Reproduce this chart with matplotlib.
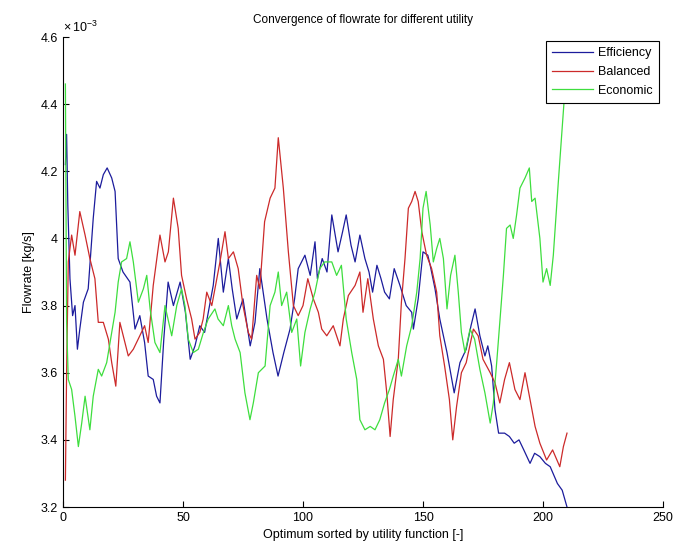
import numpy as np
import matplotlib
matplotlib.use("Agg")
import matplotlib.pyplot as plt
from matplotlib.ticker import FuncFormatter, MultipleLocator

plt.rcParams['font.family'] = ['Liberation Sans', 'DejaVu Sans']
plt.rcParams['mathtext.default'] = 'regular'

# values, flowrate in units of 1e-3 kg/s
eff_x = [1, 1.5, 2, 2.9, 4, 5, 6, 7, 8.5, 10.5, 12.6, 14, 15.4, 16.8, 18.4, 20.3, 21.7, 23, 25, 27.9,
         30, 32, 34, 35.5, 37.6, 39, 40.4, 42, 43.8, 46, 48.8, 51, 53, 55, 57, 59, 62.6, 64.7, 66.8, 68.9,
         70.5, 72.4, 75, 78, 80, 82, 85, 87.5, 89.6, 92, 94.6, 96.5, 98, 100.8, 103, 105, 106, 108, 110, 112,
         114.6, 116.5, 118, 120, 121.7, 123.7, 125.8, 127.5, 129, 130.8, 132.5, 134, 136, 138, 140.4, 143,
         145.3, 146, 148, 150, 152, 153, 155, 157, 160, 163, 165.4, 168, 170, 171.7, 173.7, 175.8, 177,
         178.6, 180, 181.5, 184, 186, 188, 190, 192, 194.6, 196.5, 198.7, 201, 203, 206, 208, 210]
eff_y = [4.22, 4.31, 4.10, 3.88, 3.77, 3.80, 3.67, 3.73, 3.81, 3.85, 4.06, 4.17, 4.15, 4.19, 4.21, 4.18, 4.14, 3.94, 3.90, 3.87,
         3.73, 3.77, 3.69, 3.59, 3.58, 3.53, 3.51, 3.70, 3.87, 3.80, 3.87, 3.78, 3.64, 3.68, 3.74, 3.72, 3.86, 4.00, 3.84, 3.94,
         3.85, 3.76, 3.82, 3.68, 3.75, 3.91, 3.76, 3.66, 3.59, 3.66, 3.73, 3.82, 3.91, 3.95, 3.89, 3.99, 3.88, 3.94, 3.90, 4.07,
         3.96, 4.02, 4.07, 3.98, 3.93, 4.01, 3.94, 3.90, 3.84, 3.92, 3.88, 3.84, 3.82, 3.91, 3.86, 3.80,
         3.78, 3.73, 3.82, 3.96, 3.95, 3.92, 3.85, 3.76, 3.66, 3.54, 3.63, 3.67, 3.74, 3.79, 3.71, 3.65, 3.68,
         3.62, 3.49, 3.42, 3.42, 3.41, 3.39, 3.40, 3.37, 3.33, 3.36, 3.35, 3.33, 3.32, 3.27, 3.25, 3.20]

bal_x = [1, 1.5, 2.2, 3.6, 5, 7, 9.2, 11.2, 13.3, 14.7, 16.8, 18.9, 20.3, 22, 23.7, 25.8, 27.2, 29.3, 32, 34,
         35.5, 37.6, 40.4, 42.5, 43.9, 46, 48, 49.4, 51.5, 53.6, 55, 57, 58.4, 59.9, 62, 65.4, 67.5, 68.9, 71, 73,
         75, 77.2, 78.6, 80.7, 82, 84, 86.3, 88.3, 89.7, 91.8, 93.9, 96, 98, 100, 102, 104.3, 106.4, 107.8, 109.9,
         112.6, 115.4, 116.8, 118.9, 121.7, 123.7, 125, 127, 129.3, 131.4, 133.5, 134.9, 136.3, 137.6, 139.7,
         141, 142.5, 143.9, 145.3, 146.7, 148, 149.5, 151.5, 153.6, 155.7, 157, 159, 161, 162.4, 164, 166,
         168, 171, 173, 175, 178, 180, 182, 184, 186, 188.3, 190.4, 192.5, 194.6, 196.7, 198.7, 201.5, 204,
         207, 208.5, 210]
bal_y = [3.28, 3.60, 3.93, 4.01, 3.95, 4.08, 4.01, 3.94, 3.88, 3.75, 3.75, 3.70, 3.63, 3.56, 3.75, 3.69, 3.65, 3.67, 3.71, 3.74,
         3.69, 3.86, 4.01, 3.93, 3.96, 4.12, 4.03, 3.89, 3.82, 3.76, 3.70, 3.72, 3.76, 3.84, 3.80, 3.93, 4.02, 3.94, 3.96, 3.91,
         3.80, 3.72, 3.70, 3.89, 3.85, 4.05, 4.12, 4.15, 4.30, 4.15, 3.96, 3.80, 3.77, 3.80, 3.88, 3.82, 3.78, 3.73, 3.71,
         3.74, 3.68, 3.76, 3.83, 3.86, 3.90, 3.78, 3.88, 3.76, 3.68, 3.64, 3.54, 3.41, 3.52, 3.64,
         3.81, 3.94, 4.09, 4.11, 4.14, 4.11, 4.02, 3.95, 3.91, 3.84, 3.71, 3.62, 3.52, 3.40, 3.50, 3.60,
         3.63, 3.73, 3.71, 3.64, 3.60, 3.57, 3.51, 3.58, 3.63, 3.55, 3.52, 3.60, 3.52, 3.44, 3.39, 3.34, 3.37,
         3.32, 3.38, 3.42]

eco_x = [1, 1.5, 2.2, 3.6, 5, 6.4, 7.8, 9.2, 11.2, 12.6, 14.7, 16.1, 18.2, 19.6, 21.7, 23, 24.4, 26.5, 27.9, 29.3,
         31.4, 33.5, 34.9, 36.3, 38.3, 40.4, 42.5, 45.3, 47.4, 49.4, 50.8, 52.2, 54.3, 56.4, 58.5, 60.5, 63.3, 64.6,
         66.8, 68.9, 70.3, 71.7, 73.8, 75.8, 77.9, 79.3, 81.4, 84.2, 86.3, 88.3, 89.7, 91.1, 93.2, 95.3, 97.4, 99,
         100.8, 103, 105, 107, 109, 112, 114, 116, 118, 120.3, 122.4, 123.7, 125.8, 128, 130, 132, 134, 136,
         137.6, 139.7, 141, 143.2, 145.3, 147.4, 148.8, 150, 151.3, 153, 154.3, 155.7, 157, 158.5, 160, 161.5,
         163.3, 164.7, 166, 167.5, 169.6, 171.5, 173.7, 175.8, 178, 179.3, 180.7, 182, 183.5, 184.8, 186.3,
         187.6, 189, 190.4, 192.5, 194.3, 195.3, 196.7, 198.7, 200, 201.5, 203, 204.3, 206.4, 207.8, 208.8, 210]
eco_y = [4.46, 3.75, 3.58, 3.55, 3.47, 3.38, 3.45, 3.53, 3.43, 3.53, 3.61, 3.59, 3.63, 3.69, 3.78, 3.87, 3.93, 3.94, 3.99, 3.93,
         3.81, 3.85, 3.89, 3.79, 3.69, 3.66, 3.80, 3.71, 3.80, 3.85, 3.80, 3.70, 3.66, 3.67, 3.72, 3.76, 3.79, 3.76,
         3.74, 3.80, 3.74, 3.70, 3.66, 3.54, 3.46, 3.51, 3.60, 3.62, 3.80, 3.84, 3.90, 3.80, 3.84, 3.72, 3.76, 3.62,
         3.72, 3.79, 3.84, 3.91, 3.93, 3.93, 3.89, 3.92, 3.76, 3.66, 3.58, 3.46, 3.43, 3.44, 3.43, 3.46, 3.51, 3.55,
         3.59, 3.64, 3.59, 3.68, 3.74, 3.84, 3.94, 4.09, 4.14, 4.04, 3.93, 3.97, 4.00, 3.94, 3.79, 3.89,
         3.95, 3.84, 3.72, 3.66, 3.73, 3.70, 3.61, 3.54, 3.45, 3.51, 3.63, 3.75, 3.89, 4.03, 4.04,
         4.00, 4.07, 4.15, 4.18, 4.21, 4.11, 4.12, 4.00, 3.87, 3.91, 3.86, 3.95, 4.17, 4.31, 4.41, 4.55]

labels = ["Efficiency", "Balanced", "Economic"]

fig = plt.figure(figsize=(6.77, 5.5), dpi=100)
ax = fig.add_axes([63/677, 43/550, 600/677, 470/550])

ax.plot(eff_x, np.array(eff_y)*1e-3, color="#1c1c9c", linewidth=0.9, label=labels[0])
ax.plot(bal_x, np.array(bal_y)*1e-3, color="#cc2a2a", linewidth=0.9, label=labels[1])
ax.plot(eco_x, np.array(eco_y)*1e-3, color="#3ede3e", linewidth=0.9, label=labels[2])

ax.set_xlim(0, 250)
ax.set_ylim(3.2e-3, 4.6e-3)
ax.xaxis.set_major_locator(MultipleLocator(50))
ax.yaxis.set_major_locator(MultipleLocator(0.2e-3))
ax.yaxis.set_major_formatter(FuncFormatter(lambda v, p: f"{v*1e3:.1f}".rstrip("0").rstrip(".")))
ax.tick_params(direction="in", length=4, labelsize=9, width=0.8)
ax.spines["top"].set_visible(False)
ax.spines["right"].set_visible(False)

ax.text(0.0, 1.005, r"$\times\,10^{-3}$", transform=ax.transAxes, fontsize=9, ha="left", va="bottom")
ax.set_title("Convergence of flowrate for different utility", fontsize=8.5, pad=10)
ax.set_xlabel("Optimum sorted by utility function [-]", fontsize=9, labelpad=4)
ax.set_ylabel("Flowrate [kg/s]", fontsize=9, labelpad=4)

leg = ax.legend(loc="upper right", fontsize=9, fancybox=False, framealpha=1,
                edgecolor="black", handlelength=3.3, handletextpad=0.4,
                borderaxespad=0.3, labelspacing=0.55, borderpad=0.5)
leg.get_frame().set_linewidth(0.8)

fig.savefig("out.png", dpi=100)
